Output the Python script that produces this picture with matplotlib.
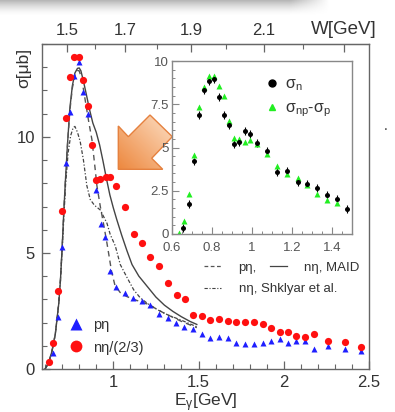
import numpy as np
import matplotlib
matplotlib.use('Agg')
import matplotlib.pyplot as plt
from matplotlib.ticker import MultipleLocator, FixedLocator, FormatStrFormatter
from matplotlib.patches import Polygon
from matplotlib.lines import Line2D

plt.rcParams['font.family'] = ['Liberation Sans', 'DejaVu Sans']
plt.rcParams['mathtext.fontset'] = 'custom'
plt.rcParams['mathtext.rm'] = 'Liberation Sans'
plt.rcParams['mathtext.it'] = 'Liberation Sans:italic'
plt.rcParams['mathtext.default'] = 'regular'

# p eta data (blue triangles)
E_p = [0.649, 0.675, 0.700, 0.724, 0.747, 0.772, 0.800, 0.825, 0.849, 0.900, 0.928, 0.953, 0.978,
       1.016, 1.067, 1.116, 1.168, 1.218, 1.267, 1.319, 1.368, 1.417, 1.467, 1.520, 1.569, 1.622,
       1.671, 1.722, 1.773, 1.824, 1.876, 1.927, 1.976, 2.025, 2.072, 2.124, 2.179, 2.257, 2.361, 2.453]
s_p = [0.70, 2.25, 5.25, 8.87, 11.09, 12.62, 13.22, 11.95, 10.97, 7.73, 6.25, 5.68, 4.22,
       3.52, 3.29, 3.07, 2.94, 2.76, 2.37, 2.20, 2.00, 1.82, 1.72, 1.51, 1.35, 1.36,
       1.34, 1.14, 1.08, 1.09, 1.11, 1.22, 1.28, 1.11, 1.21, 1.19, 0.86, 0.99, 0.85, 0.79]

# n eta / (2/3) data (red circles)
E_n = [0.624, 0.645, 0.675, 0.702, 0.724, 0.747, 0.772, 0.798, 0.825, 0.851, 0.875, 0.898, 0.924,
       0.957, 0.978, 1.018, 1.067, 1.120, 1.169, 1.218, 1.271, 1.322, 1.371, 1.419, 1.469, 1.520,
       1.569, 1.622, 1.671, 1.722, 1.773, 1.824, 1.876, 1.927, 1.976, 2.025, 2.072, 2.124, 2.179,
       2.257, 2.361, 2.453]
s_n = [0.29, 1.13, 3.36, 6.81, 10.81, 12.6, 13.43, 13.46, 12.46, 11.34, 9.63, 8.15, 8.18,
       8.26, 8.26, 7.89, 7.0, 5.82, 5.42, 4.84, 4.44, 3.69, 3.19, 3.0, 2.33, 2.28,
       2.11, 2.14, 2.07, 2.04, 2.03, 2.03, 1.93, 1.75, 1.61, 1.61, 1.42, 1.37, 1.50,
       1.21, 1.16, 0.94]

# model curves
E_maid_n = [0.60, 0.62, 0.64, 0.66, 0.68, 0.69, 0.70, 0.71, 0.72, 0.73, 0.745, 0.76, 0.775, 0.79,
            0.80, 0.81, 0.825, 0.84, 0.86, 0.88, 0.90, 0.92, 0.94, 0.96, 0.98, 1.00, 1.02, 1.05,
            1.08, 1.11, 1.15, 1.20, 1.25, 1.30, 1.35, 1.40, 1.45, 1.49]
s_maid_n = [0.0, 0.25, 0.75, 1.5, 2.8, 3.8, 5.2, 6.8, 8.2, 9.5, 11.2, 12.2, 12.75, 12.95,
            12.97, 12.85, 12.4, 11.9, 11.2, 10.6, 10.2, 9.65, 8.95, 8.2, 7.5, 6.95, 6.45, 5.75,
            5.1, 4.5, 4.0, 3.55, 3.1, 2.75, 2.48, 2.25, 2.05, 1.92]

E_maid_p = [0.60, 0.62, 0.64, 0.66, 0.68, 0.69, 0.70, 0.71, 0.72, 0.73, 0.745, 0.76, 0.775, 0.79,
            0.80, 0.815, 0.835, 0.855, 0.875, 0.894, 0.904, 0.924, 0.943, 0.963, 0.978, 0.99,
            1.01, 1.04, 1.08, 1.12, 1.20, 1.30, 1.40, 1.49]
s_maid_p = [0.0, 0.25, 0.75, 1.5, 2.8, 3.8, 5.2, 6.8, 8.2, 9.5, 11.1, 12.1, 12.65, 12.85,
            12.85, 12.5, 11.6, 10.7, 9.87, 8.6, 7.9, 7.0, 6.25, 5.42, 4.75, 4.2,
            3.6, 3.3, 3.12, 3.0, 2.8, 2.4, 2.05, 1.78]

E_shk = [0.60, 0.62, 0.64, 0.66, 0.68, 0.69, 0.70, 0.71, 0.72, 0.735, 0.75, 0.765, 0.775, 0.79,
         0.806, 0.825, 0.845, 0.865, 0.89, 0.924, 0.963, 0.982, 1.012, 1.041, 1.08, 1.12, 1.16,
         1.20, 1.26, 1.32, 1.40, 1.49]
s_shk = [0.0, 0.25, 0.75, 1.5, 2.8, 3.8, 5.1, 6.5, 7.9, 9.3, 10.05, 10.4, 10.45, 10.2,
         9.8, 9.0, 7.9, 7.3, 7.05, 6.85, 6.28, 5.8, 5.3, 4.5, 3.95, 3.41, 3.05,
         2.83, 2.55, 2.33, 2.1, 1.82]

# inset data
E_sn = [0.657, 0.687, 0.711, 0.737, 0.758, 0.785, 0.810, 0.837, 0.862, 0.885, 0.912, 0.937, 0.963,
        0.990, 1.023, 1.073, 1.127, 1.173, 1.228, 1.277, 1.327, 1.377, 1.427, 1.477]
s_sn = [0.33, 1.74, 4.2, 6.88, 8.31, 8.82, 8.95, 7.93, 6.88, 6.30, 5.21, 5.33, 5.95,
        5.77, 5.25, 4.81, 3.60, 3.66, 3.0, 2.91, 2.66, 2.27, 2.05, 1.45]
E_diff = [0.637, 0.658, 0.687, 0.711, 0.737, 0.758, 0.785, 0.810, 0.837, 0.862, 0.885, 0.912,
          0.937, 0.963, 0.990, 1.023, 1.073, 1.127, 1.173, 1.228, 1.277, 1.327, 1.377, 1.427]
s_diff = [0.08, 0.76, 2.31, 4.59, 7.34, 8.47, 9.11, 9.15, 8.57, 7.98, 6.53, 5.56,
          5.5, 5.31, 5.41, 5.21, 4.65, 3.95, 3.47, 3.24, 2.85, 2.31, 1.94, 1.82]

W_ticks = [1.5, 1.7, 1.9, 2.1, 2.3]
W_labels = ['1.5', '1.7', '1.9', '2.1', 'W[GeV]']

fig = plt.figure(figsize=(3.95, 4.12), dpi=100)
W, H = 395.0, 412.0

ax = fig.add_axes([42 / W, 1 - 369 / H, 327 / W, 325 / H])
frame = '#666666'
for sp in ax.spines.values():
    sp.set_color(frame)
    sp.set_linewidth(1.0)

ax.plot(E_maid_n, s_maid_n, color='#444444', lw=1.0, ls='-')
ax.plot(E_maid_p, s_maid_p, color='#555555', lw=1.0, ls=(0, (4, 3)))
ax.plot(E_shk, s_shk, color='#444444', lw=0.9, ls=(0, (3, 1.5, 1, 1.5)))
ax.plot(E_p, s_p, ls='none', marker='^', ms=4.5, color='#1f1fff', mec='none')
ax.plot(E_n, s_n, ls='none', marker='o', ms=5.2, color='#ff1010', mec='none')

ax.set_xlim(0.582, 2.5)
ax.set_ylim(0, 14)
ax.xaxis.set_major_locator(FixedLocator([1, 1.5, 2, 2.5]))
ax.xaxis.set_major_formatter(FormatStrFormatter('%g'))
ax.xaxis.set_minor_locator(MultipleLocator(0.1))
ax.yaxis.set_major_locator(FixedLocator([0, 5, 10]))
ax.yaxis.set_minor_locator(MultipleLocator(1))
ax.tick_params(which='both', direction='in', colors=frame, labelcolor='#333333', labelsize=12)
ax.tick_params(which='major', length=6, width=0.9)
ax.tick_params(which='minor', length=3.5, width=0.8)
ax.tick_params(axis='x', pad=4)
ax.tick_params(axis='y', pad=5)
ax.set_xlabel('E$_{γ}$[GeV]', fontsize=12.5, color='#333333', labelpad=1)
ax.set_ylabel('σ[μb]', fontsize=12.5, color='#333333')
ax.yaxis.set_label_coords(-0.032, 0.925)

# W axis on top
m = 0.938
def e2w(e):
    return np.sqrt(m * m + 2 * m * np.clip(e, 0, None))
def w2e(w):
    return (np.asarray(w) ** 2 - m * m) / (2 * m)
top = ax.secondary_xaxis('top', functions=(e2w, w2e))
top.set_xticks(W_ticks, labels=W_labels)
top.xaxis.set_minor_locator(FixedLocator([1.6, 1.8, 2.0, 2.2]))
top.tick_params(which='both', direction='in', colors=frame, labelcolor='#333333', labelsize=12, pad=4)
top.tick_params(which='major', length=6, width=0.9)
top.tick_params(which='minor', length=3.5, width=0.8)
top.spines['top'].set_color(frame)
for t in top.xaxis.get_major_ticks()[-1:]:
    t.label1.set_fontsize(13.5)
    t.label2.set_fontsize(13.5)

# legends in the main panel
leg1 = ax.legend([Line2D([], [], ls='none', marker='^', ms=8, color='#1f1fff', mec='none'),
                  Line2D([], [], ls='none', marker='o', ms=8.5, color='#ff1010', mec='none')],
                 ['pη', 'nη/(2/3)'], loc='center left', bbox_to_anchor=(0.02, 0.10),
                 frameon=False, fontsize=10.5, handletextpad=0.15, labelspacing=0.55,
                 labelcolor='#333333')
ax.add_artist(leg1)
leg2 = ax.legend([Line2D([], [], color='#555555', lw=0.9, ls=(0, (3, 2))),
                  Line2D([], [], color='#444444', lw=0.9, ls='-')],
                 ['pη,', 'nη, MAID'], ncol=2, loc='center left', bbox_to_anchor=(0.46, 0.311),
                 frameon=False, fontsize=9.5, handlelength=1.3, handletextpad=1.3,
                 columnspacing=1.0, labelcolor='#333333')
ax.add_artist(leg2)
leg3 = ax.legend([Line2D([], [], color='#444444', lw=0.8, ls=(0, (3, 1.5, 1, 1.5)))],
                 ['nη, Shklyar et al.'], loc='center left', bbox_to_anchor=(0.46, 0.246),
                 frameon=False, fontsize=9.5, handlelength=1.3, handletextpad=1.3,
                 labelcolor='#333333')

# overlay: orange arrow and slide shadow
ov = fig.add_axes([0, 0, 1, 1], zorder=1)
ov.set_xlim(0, W)
ov.set_ylim(H, 0)
ov.axis('off')
ov.patch.set_alpha(0)
arrow_pts = [(118.3, 126), (128.3, 136.7), (150, 115), (172.3, 136.7),
             (151.7, 158.3), (162.7, 169.3), (118.3, 169.3)]
poly = Polygon(arrow_pts, closed=True, facecolor='none', edgecolor='#e5813f', lw=1.0, zorder=3)
ov.add_patch(poly)
gx, gy = np.meshgrid(np.linspace(0, 1, 60), np.linspace(0, 1, 60))
g = (gx + (1 - gy)) / 2
c0 = np.array([0.93, 0.53, 0.24])
c1 = np.array([0.99, 0.88, 0.78])
img = c0[None, None, :] * (1 - g[..., None]) + c1[None, None, :] * g[..., None]
im = ov.imshow(img, extent=[118, 173, 170, 114], zorder=2, aspect='auto')
im.set_clip_path(poly)

sh = np.ones((20, 200, 4))
yy = np.linspace(0, 1, 20)[:, None]
xx = np.linspace(0, 1, 200)[None, :]
sh[..., :3] = 0.62
sh[..., 3] = (1 - yy) ** 1.6 * np.clip((1 - xx) / 0.12, 0, 1) * 0.75
ov.imshow(sh, extent=[0, 330, 16, 0], aspect='auto', zorder=1)
ov.text(386, 133, '.', fontsize=10, color='#333333', ha='center', va='bottom')

# inset
ins = fig.add_axes([172 / W, 1 - 234 / H, 180 / W, 173 / H], zorder=2)
ins.set_facecolor('white')
for sp in ins.spines.values():
    sp.set_color('#888888')
    sp.set_linewidth(1.0)
ins.errorbar(E_sn, s_sn, yerr=0.22, fmt='o', ms=3.6, color='black', mec='none',
             elinewidth=0.8, capsize=0)
ins.plot(E_diff, s_diff, ls='none', marker='^', ms=3.8, color='#22ee22', mec='none')
ins.set_xlim(0.6, 1.5)
ins.set_ylim(0, 10)
ins.xaxis.set_major_locator(MultipleLocator(0.2))
ins.xaxis.set_minor_locator(MultipleLocator(0.05))
ins.yaxis.set_major_locator(MultipleLocator(2.5))
ins.yaxis.set_minor_locator(MultipleLocator(0.5))
ins.xaxis.set_major_formatter(FormatStrFormatter('%g'))
ins.yaxis.set_major_formatter(FormatStrFormatter('%g'))
ins.tick_params(which='both', direction='in', colors='#888888', labelcolor='#555555', labelsize=9.5)
ins.tick_params(which='major', length=5, width=0.8)
ins.tick_params(which='minor', length=2.5, width=0.7)
ins.tick_params(axis='x', pad=6)
ins.tick_params(axis='y', pad=2.5)
ins.legend([Line2D([], [], ls='none', marker='o', ms=5, color='black'),
            Line2D([], [], ls='none', marker='^', ms=5, color='#22ee22')],
           ['$σ_{n}$', '$σ_{np}$-$σ_{p}$'], loc='upper left', bbox_to_anchor=(0.43, 0.995),
           frameon=False, fontsize=11.5, handlelength=1.0, handletextpad=0.35, labelspacing=0.45,
           labelcolor='#333333')

fig.savefig('out.png', dpi=100)
